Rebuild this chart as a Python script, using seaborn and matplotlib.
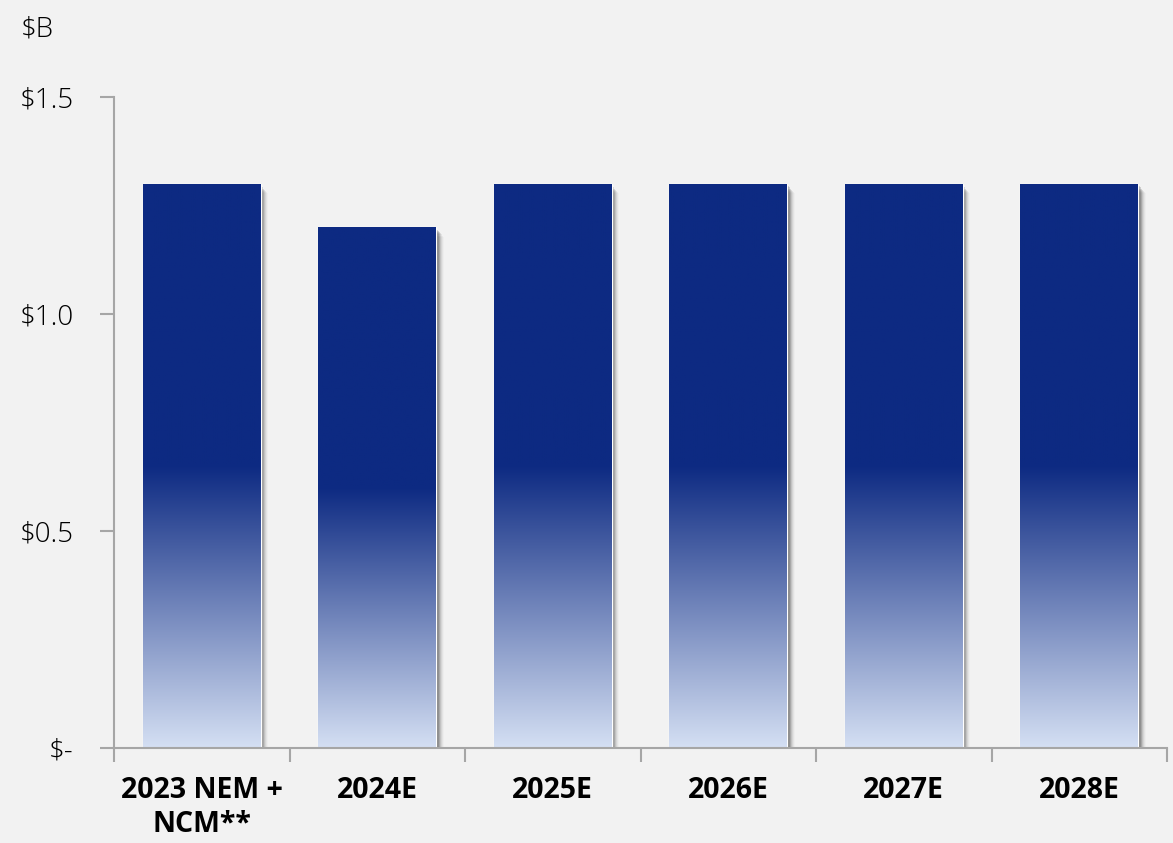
import numpy as np
import pandas as pd
import seaborn as sns
import matplotlib.pyplot as plt
from matplotlib.colors import LinearSegmentedColormap
from matplotlib.patches import Rectangle

# data ($B)
categories = ["2023 NEM +\nNCM**", "2024E", "2025E", "2026E", "2027E", "2028E"]
values = [1.3, 1.2, 1.3, 1.3, 1.3, 1.3]
y_ticks = [0, 0.5, 1.0, 1.5]
y_labels = ["$-", "$0.5", "$1.0", "$1.5"]

df = pd.DataFrame({"cat": categories, "val": values})

bg = "#f2f2f2"
dark = "#0d2a82"
light = "#d4dff3"
axis_col = "#a6a6a6"

sns.set_style("white")
plt.rcParams["font.family"] = ["Open Sans", "DejaVu Sans"]
plt.rcParams["text.color"] = "black"
plt.rcParams["xtick.color"] = "black"
plt.rcParams["ytick.color"] = "black"

fig = plt.figure(figsize=(11.73, 8.43), dpi=100, facecolor=bg)
ax = fig.add_axes([0.0972, 0.1127, 0.8977, 0.7722], facecolor=bg)

sns.barplot(data=df, x="cat", y="val", color=dark, width=0.67, ax=ax,
            errorbar=None, saturation=1, zorder=3)

# gradient fill: light at the bottom, dark from half height upward
cmap = LinearSegmentedColormap.from_list("bar", [(0, light), (0.5, dark), (1, dark)])
grad = np.linspace(0, 1, 256).reshape(-1, 1)
for p in ax.patches:
    x0, y0 = p.get_x(), p.get_y()
    w, h = p.get_width(), p.get_height()
    # soft shadow to the right
    for i, a in enumerate([0.22, 0.18, 0.15, 0.12, 0.09, 0.06, 0.04, 0.02]):
        off = 0.0055 * (i + 1)
        ax.add_patch(Rectangle((x0 + off, y0), w, h - off * 0.5, facecolor="black",
                               alpha=a, lw=0, zorder=2))
    im = ax.imshow(grad, cmap=cmap, origin="lower", aspect="auto",
                   extent=(x0, x0 + w, y0, y0 + h), zorder=3.5, interpolation="bilinear")
    im.set_clip_path(p)

ax.set_xlim(-0.5, len(categories) - 0.5)
ax.set_ylim(0, 1.5)

ax.set_yticks(y_ticks)
ax.set_yticklabels(y_labels, fontsize=20, fontweight="light")
ax.tick_params(axis="y", length=10, width=1.5, color=axis_col, pad=19, left=True)

# major x ticks sit between categories, labels go on minor ticks at the centres
ax.set_xticks(np.arange(len(categories) + 1) - 0.5)
ax.set_xticklabels([])
ax.set_xticks(np.arange(len(categories)), minor=True)
ax.set_xticklabels(categories, minor=True, fontsize=20.5, fontweight="bold",
                   linespacing=1.25)
ax.tick_params(axis="x", which="major", length=10, width=1.5, color=axis_col, bottom=True)
ax.tick_params(axis="x", which="minor", length=0, pad=20)
ax.set_xlabel("")
ax.set_ylabel("")

for s in ["top", "right"]:
    ax.spines[s].set_visible(False)
for s in ["left", "bottom"]:
    ax.spines[s].set_color(axis_col)
    ax.spines[s].set_linewidth(1.5)
    ax.spines[s].set_zorder(4)

fig.text(0.018, 0.982, "$B", fontsize=20, fontweight="light", va="top", ha="left")

fig.savefig("out.png", dpi=100, facecolor=bg)
